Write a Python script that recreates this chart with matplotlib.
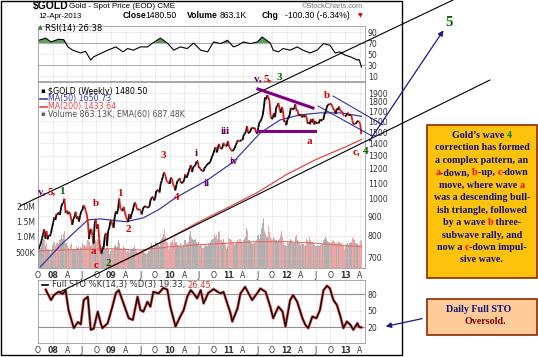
import numpy as np
import pandas as pd
import matplotlib
matplotlib.use("Agg")
import matplotlib.pyplot as plt
from matplotlib.collections import LineCollection
from matplotlib.patches import Rectangle
from matplotlib.ticker import NullLocator

W, H = 538, 357

# weekly closes of $GOLD (Fridays, Oct 2007 .. 12 Apr 2013)
close_2007 = [738, 753, 763, 786, 807, 833, 786, 822, 783, 803, 798, 811, 842]
close_2008 = [865, 896, 881, 914, 909, 923, 907, 948, 972, 972, 1001, 920, 932,
              912, 925, 918, 885, 855, 886, 896, 925, 887, 899, 872, 904, 928,
              934, 961, 956, 928, 912, 864, 785, 829, 833, 801, 763, 864, 882,
              835, 857, 787, 735, 718, 739, 745, 796, 814, 752, 823, 838, 872]
close_2009 = [878, 853, 840, 897, 927, 914, 943, 1002, 943, 939, 929, 953, 924,
              898, 883, 869, 913, 887, 914, 929, 958, 979, 963, 938, 937, 940,
              933, 911, 937, 954, 955, 956, 948, 952, 955, 995, 1006, 1014, 991,
              1003, 1049, 1052, 1057, 1040, 1096, 1118, 1146, 1174, 1160, 1121, 1110, 1104]
close_2010 = [1096, 1138, 1130, 1091, 1081, 1053, 1090, 1117, 1118, 1134, 1102, 1104, 1105,
              1125, 1161, 1136, 1155, 1180, 1209, 1228, 1177, 1214, 1218, 1229, 1256, 1256,
              1208, 1210, 1189, 1189, 1181, 1204, 1216, 1227, 1237, 1246, 1246, 1275, 1297,
              1318, 1346, 1370, 1326, 1358, 1396, 1366, 1353, 1363, 1405, 1385, 1379, 1380, 1421]
close_2011 = [1370, 1359, 1342, 1336, 1349, 1361, 1388, 1409, 1429, 1421, 1418, 1432,
              1429, 1474, 1486, 1504, 1556, 1490, 1493, 1510, 1536, 1542, 1529, 1539, 1500,
              1486, 1541, 1591, 1601, 1628, 1663, 1744, 1852, 1829, 1876, 1856, 1811, 1657, 1623,
              1636, 1683, 1642, 1744, 1753, 1788, 1724, 1686, 1746, 1712, 1598, 1606, 1564]
close_2012 = [1617, 1640, 1664, 1737, 1725, 1725, 1725, 1776, 1710, 1711, 1659, 1662, 1668,
              1640, 1659, 1642, 1663, 1644, 1580, 1592, 1573, 1622, 1591, 1626, 1571, 1604,
              1579, 1590, 1582, 1620, 1604, 1620, 1616, 1671, 1692, 1739, 1770, 1775, 1774,
              1781, 1757, 1724, 1711, 1676, 1730, 1714, 1751, 1711, 1704, 1697, 1658, 1656]
close_2013 = [1656, 1661, 1687, 1658, 1667, 1667, 1610, 1573, 1578, 1577, 1592, 1607, 1597,
              1580, 1480.5]

# weekly volume (millions)
vol_2007 = [0.62, 0.7, 0.66, 0.75, 0.85, 0.95, 0.9, 0.72, 0.8, 0.6, 0.58, 0.5, 0.55]
vol_2008 = [0.75, 0.8, 0.85, 0.7, 0.82, 0.78, 0.9, 0.95, 1.05, 0.92, 1.1, 1.2, 0.8,
            0.7, 0.65, 0.6, 0.75, 0.8, 0.62, 0.58, 0.6, 0.7, 0.66, 0.72, 0.6, 0.68,
            0.65, 0.8, 0.75, 0.7, 0.72, 0.9, 1.15, 0.85, 0.7, 0.75, 1.0, 1.1, 0.9,
            0.85, 0.95, 0.9, 0.8, 0.75, 0.7, 0.62, 0.68, 0.6, 0.65, 0.7, 0.6, 0.45]
vol_2009 = [0.55, 0.6, 0.58, 0.7, 0.75, 0.68, 0.72, 0.9, 0.8, 0.62, 0.6, 0.7, 0.65,
            0.6, 0.52, 0.55, 0.6, 0.5, 0.58, 0.6, 0.65, 0.72, 0.6, 0.55, 0.5, 0.48,
            0.52, 0.55, 0.5, 0.52, 0.5, 0.48, 0.45, 0.5, 0.55, 0.75, 0.8, 0.7, 0.65,
            0.72, 0.85, 0.8, 0.75, 0.7, 0.9, 0.95, 1.0, 1.1, 1.25, 1.0, 0.85, 0.6]
vol_2010 = [0.65, 0.8, 0.85, 0.9, 0.8, 1.0, 0.85, 0.75, 0.7, 0.72, 0.8, 0.7, 0.68,
            0.75, 0.9, 0.8, 0.78, 0.85, 1.05, 1.2, 1.0, 0.95, 0.9, 0.95, 0.85, 0.8,
            0.85, 0.7, 0.75, 0.72, 0.65, 0.7, 0.75, 0.7, 0.72, 0.8, 0.78, 0.85, 0.9,
            0.95, 1.1, 1.0, 1.05, 0.95, 1.15, 1.2, 0.9, 0.85, 0.95, 0.8, 0.75, 0.6, 0.7]
vol_2011 = [1.0, 0.95, 0.9, 0.85, 0.8, 0.75, 0.82, 0.85, 0.9, 0.88, 0.95, 0.8,
            0.85, 0.9, 0.95, 1.0, 1.3, 1.2, 0.9, 0.85, 0.8, 0.78, 0.82, 0.8, 0.85,
            0.9, 1.05, 0.95, 1.1, 1.3, 1.45, 1.6, 1.2, 1.1, 1.0, 1.35, 1.15, 1.0, 0.95,
            0.9, 1.0, 0.95, 0.9, 0.85, 0.9, 0.95, 1.05, 1.2, 1.0, 0.8, 0.75, 0.7]
vol_2012 = [0.85, 0.8, 0.85, 0.95, 0.9, 0.85, 0.8, 1.0, 1.05, 0.9, 0.85, 0.8, 0.75,
            0.8, 0.78, 0.72, 0.75, 0.95, 0.9, 0.85, 1.0, 0.9, 0.85, 0.8, 0.75, 0.72,
            0.7, 0.75, 0.72, 0.7, 0.75, 0.78, 0.9, 0.95, 1.0, 0.92, 0.88, 0.85, 0.8,
            0.85, 0.88, 0.9, 0.85, 0.82, 0.8, 0.78, 0.85, 0.8, 0.82, 0.75, 0.7, 0.6]
vol_2013 = [0.72, 0.78, 0.8, 0.75, 0.8, 0.85, 1.0, 0.95, 0.9, 0.82, 0.8, 0.78, 0.75,
            0.9, 0.86]

# overlays (decimal year, value)
ma50_t = [2007.79, 2008.14, 2008.60, 2008.82, 2009.25, 2009.55, 2009.81, 2010.10,
          2010.65, 2011.09, 2011.55, 2011.89, 2012.23, 2012.57, 2012.92, 2013.28]
ma50_v = [663, 757, 881, 886, 871, 892, 937, 1007, 1123, 1252, 1493, 1615, 1665,
          1685, 1685, 1650.73]
ma200_t = [2007.76, 2008.5, 2009.0, 2009.5, 2010.0, 2010.5, 2011.0, 2011.5, 2012.0,
           2012.5, 2013.0, 2013.28]
ma200_v = [540, 610, 665, 720, 790, 870, 950, 1040, 1160, 1270, 1370, 1433.64]
vema_t = [2007.76, 2008.5, 2009.0, 2009.5, 2010.0, 2010.5, 2011.0, 2011.5, 2012.0,
          2012.5, 2013.0, 2013.28]
vema_v = [0.55, 0.6, 0.62, 0.58, 0.68, 0.75, 0.8, 0.85, 0.85, 0.8, 0.72, 0.69]

rsi_t = [2007.76, 2007.88, 2007.97, 2008.10, 2008.19, 2008.26, 2008.34, 2008.48,
         2008.56, 2008.65, 2008.70, 2008.82, 2008.94, 2009.08, 2009.20, 2009.28,
         2009.38, 2009.50, 2009.62, 2009.71, 2009.84, 2009.96, 2010.07, 2010.18,
         2010.30, 2010.41, 2010.53, 2010.65, 2010.75, 2010.87, 2010.99, 2011.09,
         2011.17, 2011.26, 2011.38, 2011.50, 2011.58, 2011.72, 2011.77, 2011.86,
         2011.94, 2012.06, 2012.18, 2012.28, 2012.40, 2012.52, 2012.63, 2012.74,
         2012.83, 2012.91, 2013.00, 2013.09, 2013.15, 2013.21, 2013.24, 2013.28]
rsi_v = [75, 79, 72, 77, 76, 63, 57, 52, 55, 39, 45, 51, 57, 63, 54, 60, 57, 63, 63,
         70, 79, 70, 57, 63, 60, 70, 57, 54, 72, 69, 75, 63, 66, 72, 69, 72, 81, 70,
         57, 54, 60, 57, 63, 57, 52, 57, 69, 66, 52, 54, 48, 45, 42, 39, 40, 26.38]

sto_t = [2007.88, 2007.97, 2008.02, 2008.10, 2008.17, 2008.22, 2008.27, 2008.36,
         2008.43, 2008.48, 2008.53, 2008.60, 2008.65, 2008.70, 2008.77, 2008.82,
         2008.85, 2008.94, 2009.02, 2009.08, 2009.13, 2009.21, 2009.30, 2009.37,
         2009.45, 2009.50, 2009.55, 2009.62, 2009.67, 2009.72, 2009.81, 2009.89,
         2009.96, 2010.01, 2010.10, 2010.18, 2010.24, 2010.30, 2010.36, 2010.41,
         2010.47, 2010.53, 2010.58, 2010.66, 2010.75, 2010.82, 2010.87, 2010.92,
         2011.04, 2011.07, 2011.16, 2011.21, 2011.29, 2011.35, 2011.41, 2011.50,
         2011.55, 2011.64, 2011.72, 2011.77, 2011.86, 2011.93, 2011.98, 2012.06,
         2012.11, 2012.18, 2012.27, 2012.32, 2012.37, 2012.44, 2012.51, 2012.57,
         2012.63, 2012.69, 2012.74, 2012.80, 2012.86, 2012.92, 2012.97, 2013.03,
         2013.09, 2013.14, 2013.21, 2013.24, 2013.28]
sto_v = [88, 69, 78, 84, 80, 87, 51, 18, 29, 25, 69, 75, 15, 17, 48, 27, 18, 27, 57,
         82, 87, 63, 36, 33, 75, 51, 48, 66, 57, 84, 81, 91, 88, 57, 21, 39, 51, 75,
         87, 81, 72, 87, 63, 82, 89, 84, 81, 84, 45, 30, 54, 81, 93, 81, 69, 82, 90,
         84, 57, 36, 57, 48, 21, 69, 78, 66, 36, 24, 18, 39, 36, 51, 87, 95, 90, 69,
         60, 39, 18, 30, 24, 15, 27, 20, 19.33]

price_ticks = [700, 800, 900, 1000, 1100, 1200, 1300, 1400, 1500, 1600, 1700, 1800, 1900]
rsi_ticks = [10, 30, 50, 70, 90]
sto_ticks = [20, 50, 80]
vol_ticks = [0.5, 1.0, 1.5, 2.0]
vol_labels = ["500K", "1.0M", "1.5M", "2.0M"]

close = np.array(close_2007 + close_2008 + close_2009 + close_2010 +
                 close_2011 + close_2012 + close_2013, dtype=float)
volume = np.array(vol_2007 + vol_2008 + vol_2009 + vol_2010 + vol_2011 +
                  vol_2012 + vol_2013, dtype=float)
dates = pd.date_range(end="2013-04-12", periods=len(close), freq="W-FRI")
t = np.asarray(dates.year + (dates.dayofyear - 1) / 365.25, dtype=float)
n = min(len(volume), len(close))

T0, T1 = 2007.76, 2013.34
SANS = "DejaVu Sans"
SERIF = "Liberation Serif"

fig = plt.figure(figsize=(W / 100, H / 100), dpi=100)
fig.patch.set_facecolor("white")


def rect(x0, y0, x1, y1):
    return [x0 / W, 1 - y1 / H, (x1 - x0) / W, (y1 - y0) / H]


# x ticks: month letters + bold year numbers
xt, xl = [2007.748], ["O"]
for yr in range(2008, 2014):
    for lab, off in [("%02d" % (yr % 100), 0.0), ("A", 0.246), ("J", 0.496), ("O", 0.748)]:
        if yr + off < T1:
            xt.append(yr + off)
            xl.append(lab)


def style(ax, labels=True):
    ax.set_xlim(T0, T1)
    for s in ax.spines.values():
        s.set_color("#9a9a9a")
        s.set_linewidth(0.6)
    ax.set_xticks(xt)
    if labels:
        ax.set_xticklabels(xl, fontsize=5.8, family=SANS)
        for lb in ax.get_xticklabels():
            if lb.get_text().isdigit():
                lb.set_fontweight("bold")
    else:
        ax.set_xticklabels([])
    ax.grid(True, color="#c4c4c4", lw=0.5, ls=(0, (1, 1.5)))
    ax.tick_params(length=0, labelsize=5.6, pad=2, colors="#333333")
    ax.yaxis.tick_right()


# ---- RSI panel ----
ax_rsi = fig.add_axes(rect(38, 26, 365, 81))
style(ax_rsi, labels=False)
ax_rsi.set_ylim(1, 101)
ax_rsi.set_yticks(rsi_ticks)
rv = np.array(rsi_v)
ax_rsi.fill_between(rsi_t, 70, rv, where=rv > 70, interpolate=True, color="#5f9f5f", lw=0)
ax_rsi.fill_between(rsi_t, 30, rv, where=rv < 30, interpolate=True, color="#e08080", lw=0)
ax_rsi.axhline(70, color="#a0a0a0", lw=0.6)
ax_rsi.axhline(30, color="#a0a0a0", lw=0.6)
ax_rsi.plot(rsi_t, rsi_v, color="black", lw=0.8)

# ---- price panel with volume behind ----
ax_vol = fig.add_axes(rect(38, 82, 365, 268), zorder=1)
ax_vol.set_xlim(T0, T1)
ax_vol.set_ylim(0, 6.0)
up = np.r_[True, np.diff(close) >= 0][:n]
ax_vol.bar(t[:n], volume[:n], width=0.0195,
           color=np.where(up, "#b0b0b0", "#f0a4a4"), lw=0)
ax_vol.plot(vema_t, vema_v, color="#e26a6a", lw=0.8)
ax_vol.set_yticks(vol_ticks)
ax_vol.set_yticklabels(vol_labels)
ax_vol.set_xticks([])
ax_vol.tick_params(length=0, labelsize=5.6, pad=2, colors="#333333")
for s in ax_vol.spines.values():
    s.set_visible(False)

ax_p = fig.add_axes(rect(38, 82, 365, 268), zorder=2)
ax_p.patch.set_alpha(0)
ax_p.set_yscale("log")
style(ax_p)
ax_p.set_ylim(658, 2032)
ax_p.set_yticks(price_ticks)
ax_p.set_yticklabels([str(p) for p in price_ticks])
ax_p.yaxis.set_minor_locator(NullLocator())
ax_p.plot(ma200_t, ma200_v, color="#e34848", lw=0.9)
ax_p.plot(ma50_t, ma50_v, color="#3a3aa8", lw=0.9)
segs = np.stack([np.c_[t[:-1], close[:-1]], np.c_[t[1:], close[1:]]], axis=1)
seg_col = np.where(np.diff(close) >= 0, "black", "#d81818")
ax_p.add_collection(LineCollection(segs, colors=seg_col, lw=1.3))

# ---- slow stochastics panel ----
ax_sto = fig.add_axes(rect(38, 280, 365, 343))
style(ax_sto)
ax_sto.set_ylim(-9, 105.5)
ax_sto.set_yticks(sto_ticks)
ax_sto.axhline(80, color="#909090", lw=0.8)
ax_sto.axhline(20, color="#909090", lw=0.8)
ax_sto.plot(sto_t, sto_v, color="#e05050", lw=2.0)
ax_sto.plot(sto_t, sto_v, color="black", lw=0.9)

# ---- annotation layer in pixel coords ----
ov = fig.add_axes([0, 0, 1, 1], zorder=10)
ov.set_xlim(0, W)
ov.set_ylim(H, 0)
ov.axis("off")
ov.patch.set_alpha(0)
renderer = fig.canvas.get_renderer()


def twidth(s, **kw):
    tt = ov.text(0, 0, s, **kw)
    w = tt.get_window_extent(renderer).width
    tt.remove()
    return w


def rich(x, y, parts, center=False, **kw):
    base = twidth("||", **kw)
    ws = [twidth("|" + p + "|", **kw) - base for p, c in parts]
    if center:
        x = x - sum(ws) / 2
    for (p, c), w in zip(parts, ws):
        ov.text(x, y, p, color=c, ha="left", va="center", **kw)
        x += w


ov.add_patch(Rectangle((1, 1), 401, 354, fill=False, ec="black", lw=1))

# header
ov.text(33, 6.5, "$GOLD", fontsize=7.5, weight="bold", family="Liberation Sans", va="center")
ov.text(69, 7, "Gold - Spot Price (EOD) CME", fontsize=5.8, family="Liberation Sans", va="center")
ov.text(38, 16, "12-Apr-2013", fontsize=5.6, family="Liberation Sans", va="center")
hdr = [(123, "Close", "bold"), (145, "1480.50", "normal"), (187, "Volume", "bold"),
       (220, "863.1K", "normal"), (262, "Chg", "bold"), (285, "-100.30 (-6.34%)", "normal")]
for hx, s, wgt in hdr:
    ov.text(hx, 16, s, fontsize=6.2, weight=wgt, family="Liberation Sans", va="center")
ov.text(360, 16, "\u25bc", fontsize=4.5, color="#cc0000", va="center", ha="center")
ov.text(363, 7, "\u00a9StockCharts.com", fontsize=5.3, color="#777777",
        family="Liberation Sans", va="center", ha="right")

# panel legends
ov.text(38, 28, "\u25b2", fontsize=4.5, color="#2e7d2e", va="center")
ov.text(45, 28, "RSI(14) 26.38", fontsize=6, family=SANS, va="center")
ov.text(40, 91, "\u25aa", fontsize=5, va="center")
ov.text(48, 91, "$GOLD (Weekly) 1480.50", fontsize=5.7, family=SANS, va="center")
ov.plot([40, 47], [99, 99], color="#3a3aa8", lw=1.2)
ov.text(48, 99, "MA(50) 1650.73", fontsize=5.7, family=SANS, va="center", color="#3a3aa8")
ov.plot([40, 47], [106.5, 106.5], color="#e34848", lw=1.2)
ov.text(48, 106.5, "MA(200) 1433.64", fontsize=5.7, family=SANS, va="center", color="#e34848")
ov.text(40, 114, "\u25aa", fontsize=5, va="center", color="#666666")
ov.text(48, 114, "Volume 863.13K, EMA(60) 687.48K", fontsize=5.7, family=SANS,
        va="center", color="#555555")
ov.plot([42, 48], [285, 285], color="black", lw=1.2)
rich(52, 285, [("Full STO %K(14,3) %D(3) 19.33, ", "#333333"), ("26.45", "#e03030")],
     fontsize=6, family=SANS)

# Elliott wave channel and pattern lines
ov.plot([20, 453], [206, 0], color="black", lw=0.8)
ov.plot([60, 490], [292, 80], color="black", lw=0.8)
ov.plot([258, 313], [89, 108], color="#800080", lw=2.2)
ov.plot([258, 315], [131, 131], color="#800080", lw=2.2)
ov.plot([318, 372], [106, 136], color="#1a1a9a", lw=0.7)
ov.plot([333, 383], [96, 125], color="#1a1a9a", lw=0.7)
ov.annotate("", xy=(445, 28), xytext=(368, 143),
            arrowprops=dict(arrowstyle="-|>", color="#1a1a8a", lw=0.9, mutation_scale=8))
ov.annotate("", xy=(383, 327), xytext=(425, 318),
            arrowprops=dict(arrowstyle="-|>", color="#1a1a8a", lw=0.9, mutation_scale=8))

PUR, RED, GRN = "#660066", "#d00000", "#006400"
wave_labels = [
    ("v,", 42, 192, PUR), ("5,", 52, 192, RED), ("1", 62, 191, GRN),
    ("b", 96, 203, RED), ("a", 93, 252, RED), ("c", 96, 266, RED), ("2", 108, 264, GRN),
    ("1", 120, 193, RED), ("2", 128, 229, RED), ("3", 163, 156, RED), ("4", 177, 198, RED),
    ("i", 196, 154, PUR), ("ii", 207, 184, PUR), ("iii", 225, 131, PUR), ("iv", 234, 161, PUR),
    ("v,", 258, 79, PUR), ("5,", 268, 79, RED), ("3", 279, 77, GRN),
    ("b", 327, 95, RED), ("a", 309, 142, RED), ("c,", 356, 152, RED), ("4", 366, 151, GRN),
]
for s, x, y, c in wave_labels:
    ov.text(x, y, s, color=c, fontsize=8, weight="bold", family=SERIF, ha="center", va="center")
ov.text(449, 22, "5", color=GRN, fontsize=10.5, weight="bold", family=SERIF,
        ha="center", va="center")

# commentary boxes
ov.add_patch(Rectangle((427, 125), 110, 153, fc="#fcc20c", ec="#8b2a00", lw=1.2))
NAVY = "#10107a"
box_lines = [
    [("Gold\u2019s wave ", NAVY), ("4", "#008000")],
    [("correction has formed", NAVY)],
    [("a complex pattern, an", NAVY)],
    [("a", "#ff0000"), ("-down, ", NAVY), ("b", "#ff0000"), ("-up, ", NAVY),
     ("c", "#ff0000"), ("-down", NAVY)],
    [("move, where wave ", NAVY), ("a", "#ff0000")],
    [("was a descending bull-", NAVY)],
    [("ish triangle, followed", NAVY)],
    [("by a wave ", NAVY), ("b", "#ff0000"), (" three-", NAVY)],
    [("subwave rally, and", NAVY)],
    [("now a ", NAVY), ("c", "#ff0000"), ("-down impul-", NAVY)],
    [("sive wave.", NAVY)],
]
for i, parts in enumerate(box_lines):
    rich(482, 135.5 + 12.45 * i, parts, center=True, fontsize=7.2,
         weight="bold", family=SERIF)

ov.add_patch(Rectangle((427, 299), 110, 36, fc="#ffcc99", ec="#8b2a00", lw=1.2))
ov.text(479, 309, "Daily Full STO", color=NAVY, fontsize=7.2, weight="bold",
        family=SERIF, ha="center", va="center")
ov.text(485, 322, "Oversold.", color="#800000", fontsize=7.2, weight="bold",
        family=SERIF, ha="center", va="center")

fig.savefig("out.png", dpi=100)
